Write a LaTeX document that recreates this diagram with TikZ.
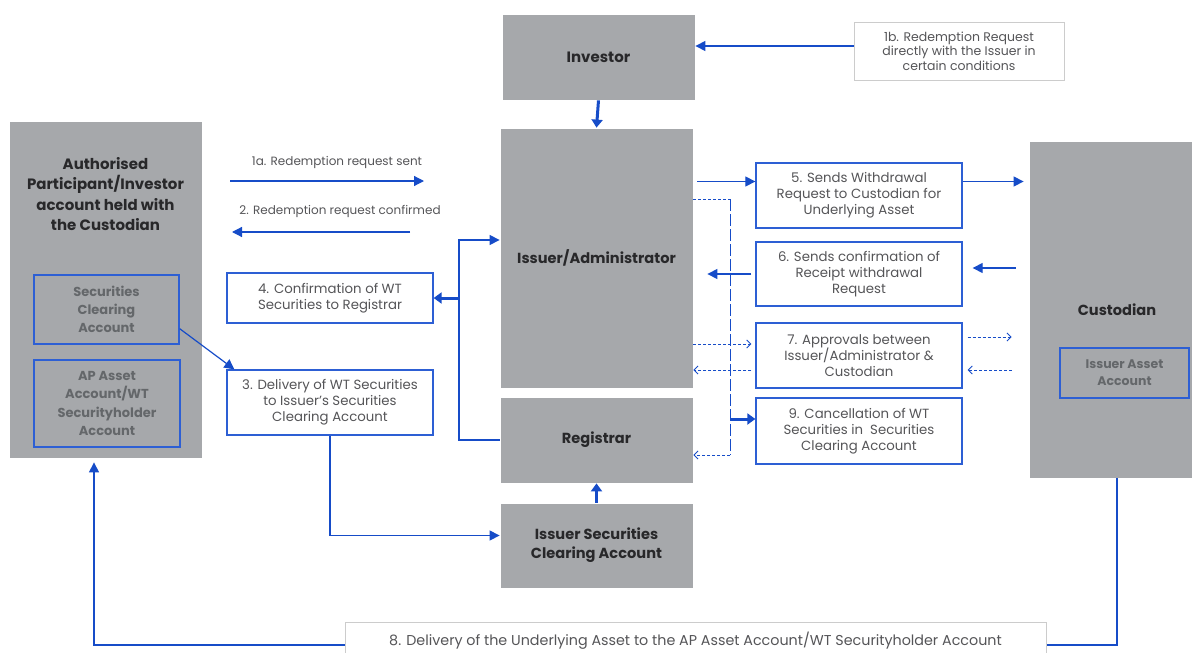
\documentclass[tikz,border=0pt]{standalone}
\usepackage{fontspec}
\setmainfont{Poppins}
\usetikzlibrary{arrows.meta,calc}
\definecolor{boxgray}{RGB}{166,168,171}
\definecolor{flowblue}{RGB}{22,76,200}
\definecolor{edgeblue}{RGB}{45,95,212}
\definecolor{darktext}{RGB}{40,40,42}
\definecolor{softtext}{RGB}{85,85,88}
\definecolor{innertext}{RGB}{100,103,106}
\tikzset{
  graybox/.style={fill=boxgray, draw=white, line width=0.8pt, text=darktext, font=\fontsize{14.6}{19}\selectfont\bfseries, align=center},
  innerbox/.style={fill=boxgray, draw=edgeblue, line width=1.3pt, text=innertext, font=\fontsize{13}{18}\selectfont\bfseries, align=center},
  stepbox/.style={fill=white, draw=edgeblue, line width=1.3pt, text=softtext, font=\fontsize{13.3}{16}\selectfont, align=center, inner sep=2pt},
  notebox/.style={fill=white, draw=black!20, line width=1pt, text=softtext, font=\fontsize{12.5}{14.5}\selectfont, align=center},
  label/.style={text=softtext, font=\fontsize{12}{14}\selectfont},
  flow/.style={draw=flowblue, line width=1.2pt, -{Triangle[length=10pt,width=10pt]}},
  thickflow/.style={draw=flowblue, line width=3pt, -{Triangle[length=8pt,width=11pt]}},
  plainline/.style={draw=flowblue, line width=1.2pt},
  dashflow/.style={draw=flowblue, line width=0.9pt, dash pattern=on 3pt off 2pt, -{Straight Barb[length=4pt,width=8pt]}},
  longdash/.style={draw=flowblue, line width=0.9pt, dash pattern=on 12pt off 3pt}
}
\begin{document}
\begin{tikzpicture}[x=1pt, y=-1pt]
	\useasboundingbox (0,0) rectangle (1192,653);

	\node[graybox, minimum width=193pt, minimum height=86pt, font=\fontsize{15}{19}\selectfont\bfseries] (investor) at (598.5,57) {Investor};
	\node[notebox, minimum width=210pt, minimum height=58pt] (onebox) at (959,51) {1b. Redemption Request\\directly with the Issuer in\\certain conditions};
	\node[graybox, minimum width=193pt, minimum height=260pt] (issuer) at (596.5,258) {Issuer/Administrator};
	\node[graybox, minimum width=193pt, minimum height=86pt] (registrar) at (596.5,440) {Registrar};
	\node[graybox, minimum width=193pt, minimum height=85pt] (isca) at (596.5,545.5) {Issuer Securities\\Clearing Account};

	\node[graybox, minimum width=193pt, minimum height=337pt] (ap) at (105.5,289.5) {};
	\node[text=darktext, font=\fontsize{15}{20.5}\selectfont\bfseries, align=center] (aptitle) at (105.5,194) {Authorised\\Participant/Investor\\account held with\\the Custodian};
	\node[innerbox, minimum width=145pt, minimum height=69pt] (secclr) at (106.5,309.5) {Securities\\Clearing\\Account};
	\node[innerbox, minimum width=146pt, minimum height=87pt, font=\fontsize{13}{18.5}\selectfont\bfseries] (apasset) at (107,403.5) {AP Asset\\Account/WT\\Securityholder\\Account};

	\node[label] (lbl1a) at (337,162) {1a. Redemption request sent};
	\node[label] (lbl2) at (340,211) {2. Redemption request confirmed};
	\coordinate (a1s) at (230,181);
	\coordinate (a1e) at (424,181);
	\coordinate (a2s) at (410,232);
	\coordinate (a2e) at (232,232);

	\node[stepbox, minimum width=206pt, minimum height=50pt] (box4) at (330,298) {4. Confirmation of WT\\Securities to Registrar};
	\node[stepbox, minimum width=206pt, minimum height=65pt] (box3) at (330,402.5) {3. Delivery of WT Securities\\to Issuer's Securities\\Clearing Account};

	\node[stepbox, minimum width=206pt, minimum height=65pt] (box5) at (859,195.5) {5. Sends Withdrawal\\Request to Custodian for\\Underlying Asset};
	\node[stepbox, minimum width=206pt, minimum height=64pt] (box6) at (859,274) {6. Sends confirmation of\\Receipt withdrawal\\Request};
	\node[stepbox, minimum width=206pt, minimum height=65pt] (box7) at (859,355.5) {7. Approvals between\\Issuer/Administrator \&\\Custodian};
	\node[stepbox, minimum width=206pt, minimum height=66pt] (box9) at (859,431) {9. Cancellation of WT\\Securities in\ \ Securities\\Clearing Account};

	\node[graybox, minimum width=176pt, minimum height=337pt] (custodian) at (1117,309.5) {};
	\node[text=darktext, font=\fontsize{14.6}{19}\selectfont\bfseries] (custtitle) at (1117,310) {Custodian};
	\node[innerbox, minimum width=129pt, minimum height=50pt, font=\fontsize{12.5}{17}\selectfont\bfseries] (issasset) at (1124.5,373) {Issuer Asset\\Account};

	\node[notebox, minimum width=701pt, minimum height=40pt, font=\fontsize{14.3}{15}\selectfont, text depth=6pt] (box8) at (695.5,642) {8. Delivery of the Underlying Asset to the AP Asset Account/WT Securityholder Account};

	\draw[flow] ([yshift=5pt]onebox.west) -- ([yshift=5pt]onebox.west -| investor.east);
	\draw[thickflow] (investor.south) -- (issuer.north);
	\draw[thickflow] (isca.north) -- (registrar.south);

	\draw[flow] (a1s) -- (a1e);
	\draw[flow] (a2s) -- (a2e);

	\coordinate (brkt) at (459,240);
	\coordinate (brkm) at (459,298);
	\draw[flow] (registrar.west) -| (brkt) -- (brkt -| issuer.west);
	\draw[thickflow] (brkm) -- (box4.east);
	\draw[flow] ([yshift=16pt]secclr.south east) -- ([xshift=8pt]box3.north west);
	\draw[flow] (box3.south) |- ([yshift=10pt]isca.west);

	\draw[flow, shorten <=4pt] ([yshift=14pt]box5.west -| issuer.east) -- ([yshift=14pt]box5.west);
	\draw[flow, shorten >=5pt] ([yshift=14pt]box5.east) -- ([yshift=14pt]box5.east -| custodian.west);
	\draw[flow, shorten <=13pt, shorten >=10pt] ([yshift=6pt]box6.east -| custodian.west) -- ([yshift=6pt]box6.east);
	\draw[flow, shorten <=4pt, shorten >=14pt] (box6.west) -- (box6.west -| issuer.east);

	\draw[dashflow, shorten >=4pt] ([yshift=11.5pt]box7.west -| issuer.east) -- ([yshift=11.5pt]box7.west);
	\draw[dashflow, shorten <=4pt] ([yshift=-14.5pt]box7.west) -- ([yshift=-14.5pt]box7.west -| issuer.east);
	\draw[dashflow, shorten <=5pt, shorten >=17pt] ([yshift=18.5pt]box7.east) -- ([yshift=18.5pt]box7.east -| custodian.west);
	\draw[dashflow, shorten <=17pt, shorten >=5pt] ([yshift=-14.5pt]box7.east -| custodian.west) -- ([yshift=-14.5pt]box7.east);

	\coordinate (dtop) at (730,199);
	\coordinate (dmid) at (730,419);
	\coordinate (dbot) at (730,455);
	\draw[flowblue, line width=0.9pt, dash pattern=on 3pt off 2pt] (dtop -| issuer.east) -- (dtop);
	\draw[longdash] (dtop) -- (dbot);
	\draw[dashflow] (dbot) -- (dbot -| registrar.east);
	\draw[thickflow] (dmid) -- (dmid -| box9.west);

	\draw[plainline] (custodian.south) |- ([yshift=-3pt]box8.east);
	\draw[flow, shorten >=4pt] ([yshift=-3pt]box8.west) -| ([xshift=-11.5pt]ap.south);
\end{tikzpicture}
\end{document}
